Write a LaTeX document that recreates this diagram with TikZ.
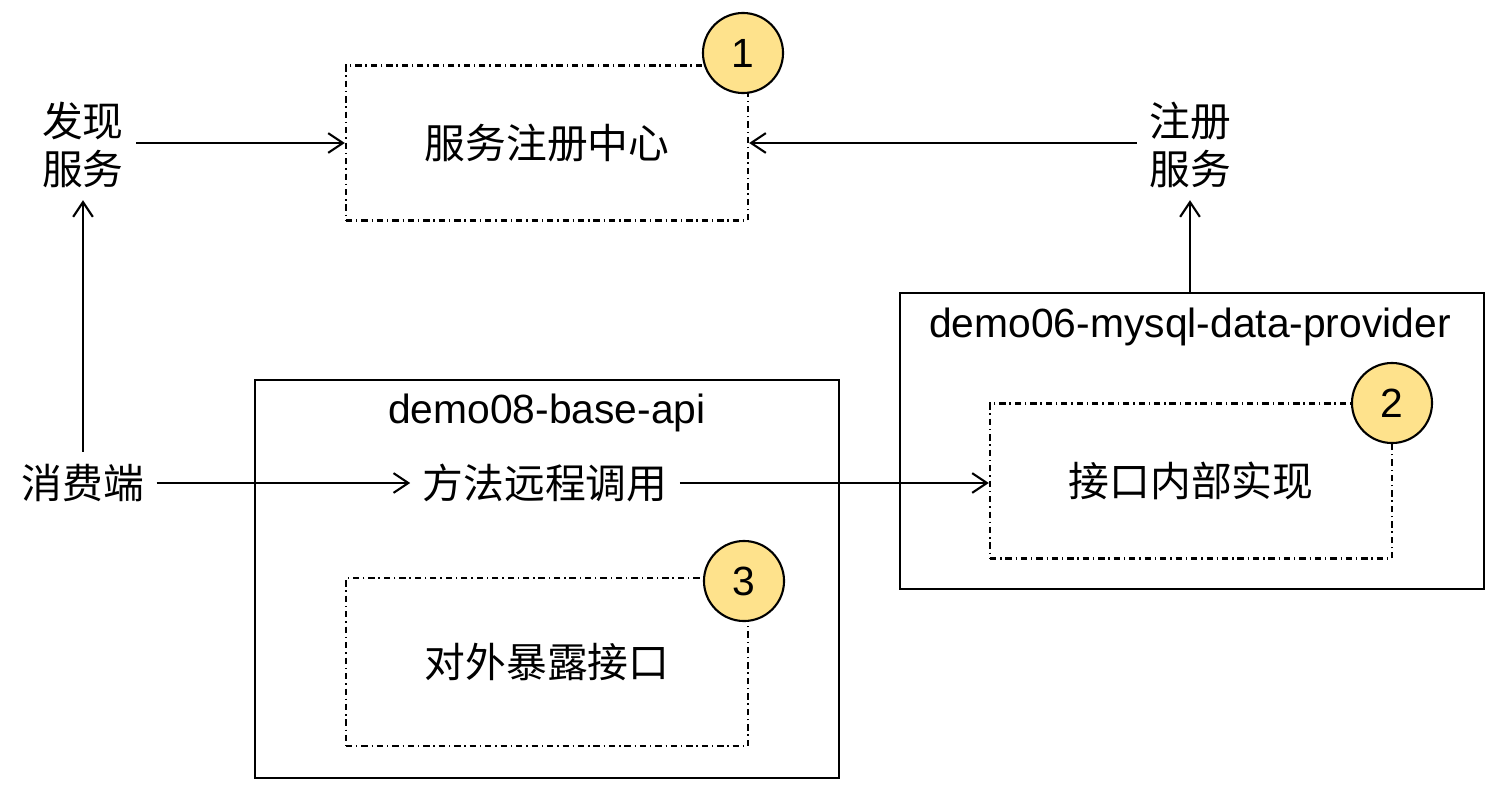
\documentclass[tikz,border=0pt]{standalone}
\usepackage{fontspec}
\setmainfont{Liberation Sans}
\newfontfamily\cjk{Noto Sans CJK SC}
\usetikzlibrary{arrows.meta, positioning, calc}
\definecolor{badgeyellow}{RGB}{254,226,140}

\begin{document}
\begin{tikzpicture}[
    x=0.01cm, y=-0.01cm,
    >={Straight Barb[length=4.2pt, width=5.6pt]},
    every node/.style={font=\fontsize{11.6}{13.6}\selectfont},
    lbl/.style={font=\cjk\fontsize{11.6}{13.6}\selectfont, align=center},
    dbox/.style={draw, lbl, line width=0.6pt,
                 dash pattern=on 1.8pt off 1.1pt on 0.4pt off 1.1pt},
    mbox/.style={draw, line width=0.6pt},
    badge/.style={circle, draw, fill=badgeyellow, line width=0.6pt,
                  minimum size=0.8cm, inner sep=0pt},
    arr/.style={->, line width=0.6pt},
]
\useasboundingbox (0,0) rectangle (1512,800);

% ---- Registry ----
\node[dbox, minimum width=4.02cm, minimum height=1.55cm] (reg) at (547,143) {服务注册中心};
\node[badge] (b1) at (743,53) {1};

\node[lbl] (find) at (83,145) {发现\\服务};
\node[lbl] (regsvc) at (1190,145) {注册\\服务};

\draw[arr] (find.east |- reg.west) -- (reg.west);
\draw[arr] (regsvc.west |- reg.east) -- (reg.east);

% ---- Consumer ----
\node[lbl] (cons) at (83,483) {消费端};
\draw[arr] (cons.north) -- (find.south);

% ---- demo08-base-api ----
\node[mbox, minimum width=5.84cm, minimum height=3.98cm] (api) at (547,579) {};
\node (apititle) at (547,413) {demo08-base-api};
\node[lbl] (call) at (545,483) {方法远程调用};
\node[dbox, minimum width=4.02cm, minimum height=1.68cm] (expose) at (547,662) {对外暴露接口};
\node[badge] (b3) at (744,581) {3};

\draw[arr] (cons.east) -- (call.west);

% ---- demo06-mysql-data-provider ----
\node[mbox, minimum width=5.84cm, minimum height=2.96cm] (prov) at (1192,441) {};
\node (provtitle) at (1190,327) {demo06-mysql-data-provider};
\node[dbox, minimum width=4.02cm, minimum height=1.55cm] (impl) at (1191,481) {接口内部实现};
\node[badge] (b2) at (1392,403) {2};

\draw[arr] (call.east) -- (call.east -| impl.west);
\draw[arr] (prov.north -| regsvc.south) -- (regsvc.south);

\end{tikzpicture}
\end{document}
